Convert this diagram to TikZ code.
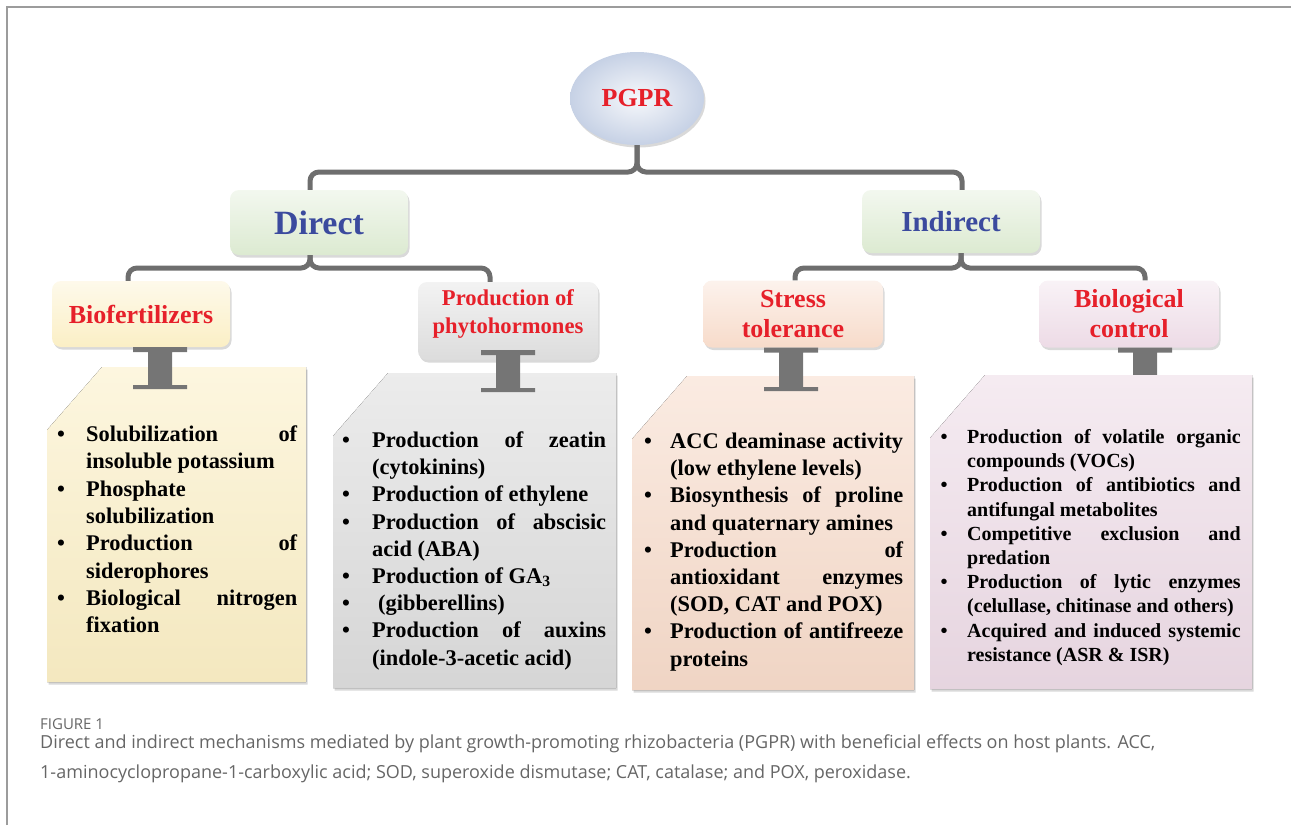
\documentclass[tikz,border=0pt]{standalone}
\usepackage{fontspec}
\setmainfont{Liberation Serif}
\newfontfamily\capfont{Open Sans}
\usepackage{enumitem}
\usetikzlibrary{calc,shadows,shapes.geometric}

\definecolor{pgprred}{HTML}{E6202A}
\definecolor{dirblue}{HTML}{3B4A9E}
\definecolor{linkgray}{HTML}{6E6E6E}
\definecolor{framegray}{HTML}{9C9C9C}
\definecolor{pgprblue}{HTML}{C6D1E5}
\definecolor{greenbox}{HTML}{DCEAD1}
\definecolor{yellowbox}{HTML}{FBEFC5}
\definecolor{graybox}{HTML}{DCDCDC}
\definecolor{peachbox}{HTML}{F7DBCA}
\definecolor{lilacbox}{HTML}{EDDBE6}
\definecolor{captext}{HTML}{666666}

\tikzset{
  softshadow/.style={drop shadow={shadow xshift=1.5pt,shadow yshift=-2.5pt,opacity=.3}},
  link/.style={draw=linkgray,line width=5pt,rounded corners=9pt},
  beam/.style={fill=linkgray!95},
  headbox/.style={rounded corners=9pt,inner sep=0pt,align=center,softshadow,
    top color=#1!35!white,bottom color=#1},
  redhead/.style={text=pgprred,font=\bfseries\fontsize{26}{30}\selectfont},
  area/.style={inner sep=0pt,outer sep=0pt},
  listtext/.style={anchor=north west,inner sep=0pt,align=justify},
}

\newcommand{\snipbox}[2]{%
  \fill[softshadow,top color=#2!55!white,middle color=#2,bottom color=#2!97!black]
    ($(#1.north west)+(55,0)$) -- (#1.north east) -- (#1.south east)
    -- (#1.south west) -- ($(#1.north west)+(0,63)$) -- cycle;}
\newcommand{\ibeam}[2]{%
  \fill[beam] let \p1=#1, \p2=#2 in
    (\x1-27pt,\y1) -- (\x1+27pt,\y1) -- (\x1+27pt,\y1-5pt) -- (\x1+12pt,\y1-5pt)
    -- (\x1+12pt,\y2+4pt) -- (\x1+27pt,\y2+4pt) -- (\x1+27pt,\y2) -- (\x1-27pt,\y2)
    -- (\x1-27pt,\y2+4pt) -- (\x1-12pt,\y2+4pt) -- (\x1-12pt,\y1-5pt) -- (\x1-27pt,\y1-5pt) -- cycle;}
\setlist[itemize]{label=\textbullet,labelsep=0pt,align=left,nosep}

\begin{document}
\begin{tikzpicture}[x=1pt,y=-1pt]
  \useasboundingbox (0,0) rectangle (1291,825);
  \draw[framegray,line width=1.5pt] (7,825) -- (7,7) -- (1291,7);

  \node[ellipse,minimum width=134pt,minimum height=93pt,inner sep=0pt,softshadow,
    inner color=white!85!pgprblue,outer color=pgprblue,redhead] (pgpr) at (637,98.5) {PGPR};

  \node[headbox=greenbox,minimum width=178pt,minimum height=65pt,text=dirblue,
    font=\bfseries\fontsize{34}{38}\selectfont] (direct) at (319,222.5) {Direct};
  \node[headbox=greenbox,minimum width=178pt,minimum height=63pt,text=dirblue,
    font=\bfseries\fontsize{29}{33}\selectfont] (indirect) at (951,221.5) {Indirect};

  \node[headbox=yellowbox,minimum width=178pt,minimum height=66pt,redhead] (biofert) at (141,314) {Biofertilizers};
  \node[headbox=graybox,minimum width=180pt,minimum height=78pt,text=pgprred,
    font=\bfseries\fontsize{22.6}{28}\selectfont] (phyto) at (508,321) {Production of\\phytohormones\\[-10pt]~};
  \node[headbox=peachbox,minimum width=180pt,minimum height=67pt,redhead] (stress) at (793,314) {Stress\\tolerance};
  \node[headbox=lilacbox,minimum width=180pt,minimum height=67pt,redhead] (biocontrol) at (1129,314) {Biological\\control};

  \coordinate (barA) at (0,172);
  \coordinate (barB) at (0,268);
  \draw[link] (pgpr.south) -- (pgpr.south |- barA) -| ([xshift=-9pt]direct.north);
  \draw[link] (pgpr.south) -- (pgpr.south |- barA) -| ([xshift=11pt]indirect.north);
  \draw[link] ([xshift=-9pt]direct.south) -- ([xshift=-9pt]direct.south |- barB) -| ([xshift=-13pt]biofert.north);
  \draw[link] ([xshift=-9pt]direct.south) -- ([xshift=-9pt]direct.south |- barB) -| ([xshift=-18pt]phyto.north);
  \draw[link] ([xshift=10pt]indirect.south) -- ([xshift=10pt]indirect.south |- barB) -| ([xshift=2pt]stress.north);
  \draw[link] ([xshift=10pt]indirect.south) -- ([xshift=10pt]indirect.south |- barB) -| ([xshift=16pt]biocontrol.north);

  \node[area,minimum width=259pt,minimum height=315pt] (c1) at (176.5,524.5) {};
  \node[area,minimum width=283pt,minimum height=315pt] (c2) at (474.5,530.5) {};
  \node[area,minimum width=282pt,minimum height=314pt] (c3) at (773,533) {};
  \node[area,minimum width=322pt,minimum height=314pt] (c4) at (1091,532) {};

  \snipbox{c1}{yellowbox}
  \snipbox{c2}{graybox}
  \snipbox{c3}{peachbox}
  \ibeam{([xshift=16pt]biocontrol.south)}{([yshift=-10pt]c4.north)}
  \snipbox{c4}{lilacbox}
  \ibeam{([xshift=19pt]biofert.south)}{([yshift=-22pt]c1.north)}
  \ibeam{([yshift=10pt]phyto.south)}{([yshift=-19pt]c2.north)}
  \ibeam{([xshift=-2pt]stress.south)}{([yshift=-15pt]c3.north)}

  \node[listtext,text width=240pt,font=\bfseries\fontsize{22.4}{27.3}\selectfont] (t1) at (57,414) {%
    \hyphenpenalty=10000
    \begin{itemize}[leftmargin=29pt,labelwidth=29pt]
      \item Solubilization of\linebreak insoluble potassium
      \item Phosphate\newline solubilization
      \item Production of\linebreak siderophores
      \item Biological nitrogen\linebreak fixation
    \end{itemize}};
  \node[listtext,text width=264pt,font=\bfseries\fontsize{22.4}{27.2}\selectfont] (t2) at (342,420) {%
    \hyphenpenalty=10000
    \begin{itemize}[leftmargin=30pt,labelwidth=30pt]
      \item Production of zeatin\linebreak (cytokinins)
      \item Production of ethylene
      \item Production of abscisic\linebreak acid (ABA)
      \item Production of GA\textsubscript{3}
      \item \hspace*{6pt}(gibberellins)
      \item Production of auxins\linebreak (indole-3-acetic acid)
    \end{itemize}};
  \node[listtext,text width=259pt,font=\bfseries\fontsize{22.4}{27.2}\selectfont] (t3) at (644,421) {%
    \hyphenpenalty=10000
    \begin{itemize}[leftmargin=26pt,labelwidth=26pt]
      \item ACC deaminase activity\linebreak (low ethylene levels)
      \item Biosynthesis of proline\linebreak and quaternary amines
      \item Production of\linebreak antioxidant enzymes\linebreak (SOD, CAT and POX)
      \item Production of antifreeze\linebreak proteins
    \end{itemize}};
  \node[listtext,text width=300pt,font=\bfseries\fontsize{20}{24.2}\selectfont] (t4) at (940.5,419) {%
    \hyphenpenalty=10000
    \begin{itemize}[leftmargin=26.5pt,labelwidth=26.5pt]
      \item Production of volatile organic\linebreak compounds (VOCs)
      \item Production of antibiotics and\linebreak antifungal metabolites
      \item Competitive exclusion and\linebreak predation
      \item Production of lytic enzymes\linebreak (celullase, chitinase and others)
      \item Acquired and induced systemic\linebreak resistance (ASR \& ISR)
    \end{itemize}};

  \node[anchor=base west,inner sep=0pt,text=captext,font=\capfont\fontsize{15}{17}\selectfont] (figno) at (40,729) {FIGURE 1};
  \node[anchor=base west,inner sep=0pt,text=captext,font=\capfont\fontsize{18}{20}\selectfont] (cap1) at (40,748)
    {Direct and indirect mechanisms mediated by plant growth-promoting rhizobacteria (PGPR) with beneficial effects on host plants. ACC,};
  \node[anchor=base west,inner sep=0pt,text=captext,font=\capfont\fontsize{18}{20}\selectfont] (cap2) at (40,778)
    {1-aminocyclopropane-1-carboxylic acid; SOD, superoxide dismutase; CAT, catalase; and POX, peroxidase.};
\end{tikzpicture}
\end{document}
